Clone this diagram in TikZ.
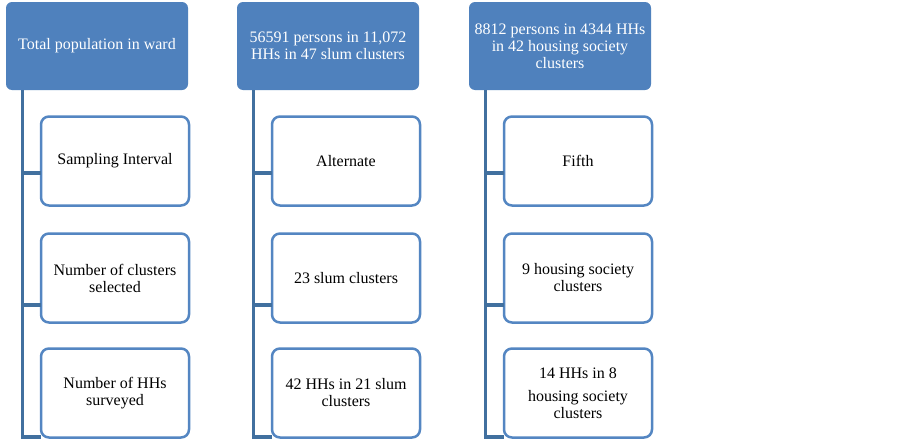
\documentclass[tikz,border=0pt]{standalone}
\usepackage{fontspec}
\setmainfont{Liberation Serif}
\definecolor{headblue}{HTML}{4F81BD}
\definecolor{boxblue}{HTML}{5486C2}
\definecolor{linkblue}{HTML}{41709F}
\begin{document}
\begin{tikzpicture}[x=1pt,y=-1pt,
  head/.style={fill=headblue, draw=none, rounded corners=6pt, text=white, align=center,
    minimum width=182pt, minimum height=88pt, inner sep=0pt, outer sep=0pt,
    font=\fontsize{16}{17}\selectfont},
  child/.style={fill=white, draw=boxblue, line width=2.5pt, rounded corners=8pt, align=center,
    minimum width=148pt, minimum height=89pt, inner sep=0pt, outer sep=0pt,
    font=\fontsize{16}{17}\selectfont},
  link/.style={draw=linkblue, line width=3.5pt}]
\useasboundingbox (0,0) rectangle (902,442);
\fill[white] (0,0) rectangle (902,442);

% column 1
\node[head]  (h1)  at (97,46)    {Total population in ward};
\node[child] (c11) at (115,161)  {Sampling Interval};
\node[child] (c12) at (115,278)  {Number of clusters\\selected};
\node[child] (c13) at (115,393)  {Number of HHs\\surveyed};

% column 2
\node[head]  (h2)  at (328,46)   {56591 persons in 11,072\\HHs in 47 slum clusters};
\node[child] (c21) at (346,161)  {Alternate};
\node[child] (c22) at (346,278)  {23 slum clusters};
\node[child] (c23) at (346,393)  {42 HHs in 21 slum\\clusters};

% column 3
\node[head]  (h3)  at (560,46)   {8812 persons in 4344 HHs\\in 42 housing society\\clusters};
\node[child] (c31) at (578,161)  {Fifth};
\node[child] (c32) at (578,278)  {9 housing society\\clusters};
\node[child] (c33) at (578,393)  {14 HHs in 8\\[6pt]housing society\\clusters};

\foreach \i in {1,2,3}{
  \coordinate (v\i) at ([xshift=16.5pt]h\i.south west);
  \coordinate (k\i1) at ([yshift=-12pt]c\i1.west);
  \coordinate (k\i2) at ([yshift=-27pt]c\i2.west);
  \coordinate (k\i3) at ([yshift=-44pt]c\i3.west);
  \draw[link] (v\i) |- (k\i3);
  \draw[link] (v\i |- k\i1) -- (k\i1);
  \draw[link] (v\i |- k\i2) -- (k\i2);
}
\end{tikzpicture}
\end{document}
